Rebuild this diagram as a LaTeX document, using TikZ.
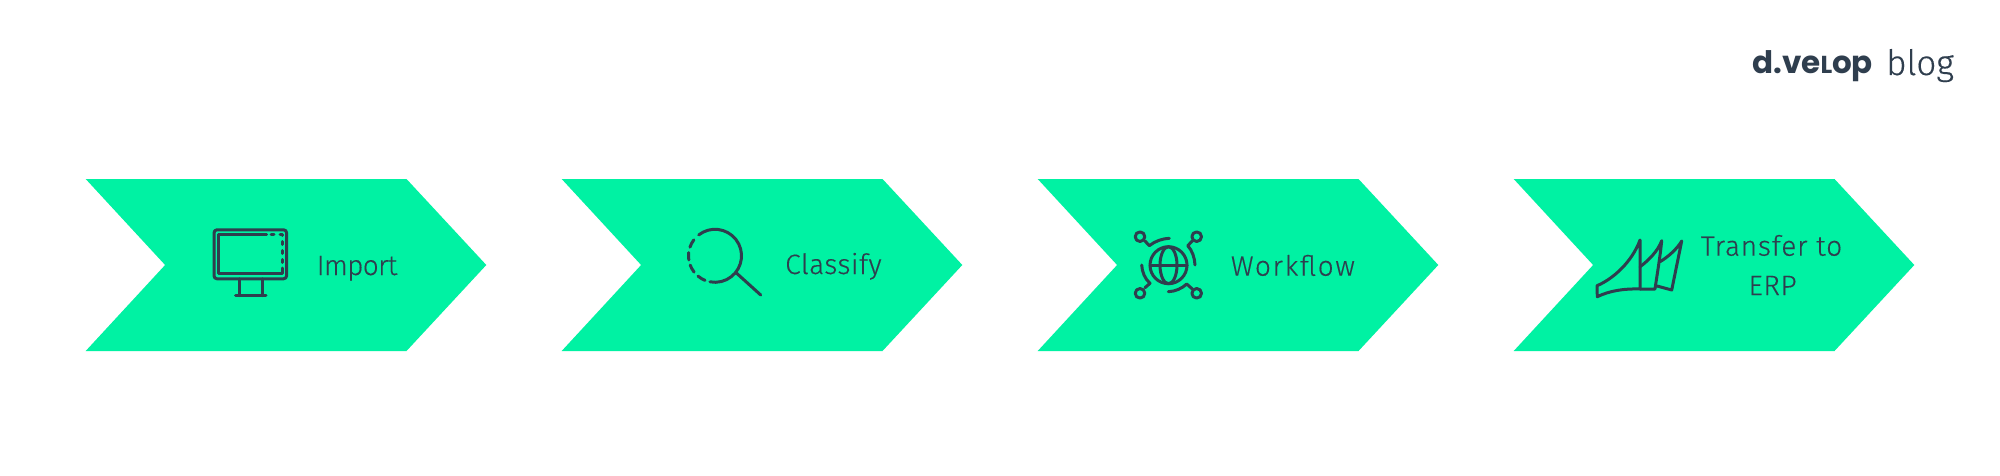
\documentclass[tikz,border=0pt]{standalone}
\usepackage{fontspec}
\setmainfont[FakeBold=0.3]{Fira Sans Light}
\newfontfamily\logofont{Poppins}
\newfontfamily\blogfont[FakeBold=0.3]{Fira Sans Light}
\definecolor{chev}{HTML}{00F2A3}
\definecolor{ink}{HTML}{2F3E4E}
\tikzset{
  chevron/.style={fill=chev,draw=none},
  label/.style={text=ink,font=\fontsize{28}{39}\selectfont,inner sep=0pt},
  icon/.style={draw=ink,line width=3pt,line cap=round,line join=round},
  cdash/.style={icon,dash pattern=on 3pt off 6pt}
}
\newcommand{\chevshape}[1]{\fill[chevron] (#1,179) -- ++(320.8,0) -- ++(79.8,86) -- ++(-79.8,86) -- ++(-320.8,0) -- ++(79.4,-86) -- cycle;}
\newcommand{\lsp}[1]{\addfontfeature{LetterSpace=#1}}
\begin{document}
\begin{tikzpicture}[x=1pt,y=-1pt]
\useasboundingbox (0,0) rectangle (2000,476);
\fill[white] (0,0) rectangle (2000,476);
\chevshape{85.7}
\chevshape{561.7}
\chevshape{1037.7}
\chevshape{1513.7}
% import icon
\draw[icon,rounded corners=3pt] (214,229.8) rectangle (286.6,278.8);
\draw[icon] (266.7,234.5) -- (218.8,234.5) -- (218.8,273.8) -- (282,273.8) -- (282,268);
\draw[cdash] (271,234.5) -- (282,234.5) -- (282,264);
\draw[icon] (239,278.8) -- (239,295.7) (262.3,278.8) -- (262.3,295.7) (235.5,295.7) -- (266,295.7);
\node[label,anchor=base west] (t1) at (316.5,275) {\lsp{-2.4}Import};
% classify icon
\draw[icon] (715,255.8) ++(128:26.5pt) arc[start angle=128,end angle=-101,radius=26.5pt];
\foreach \a/\b in {143/161,173/189,200.5/218,230/248}
  \draw[icon] (715,255.8) ++(\a:26.5pt) arc[start angle=\a,end angle=\b,radius=26.5pt];
\draw[icon] (736.7,273.3) -- (760.7,295);
\node[label,anchor=base west] (t2) at (785,274) {\lsp{1.8}Classify};
% workflow icon
\draw[icon] (1168.5,265.2) circle[radius=18.5];
\draw[icon] (1168.5,265.2) ellipse[x radius=8.5,y radius=18.5];
\draw[icon] (1150,265.2) -- (1187,265.2);
\foreach \x/\y in {1140/236.7,1196.7/236.7,1140/293.3,1196.7/293.3} \draw[icon] (\x,\y) circle[radius=4.8];
\draw[icon] (1145,241) -- (1149.3,245.7) .. controls (1155,241) and (1163,238.5) .. (1169.3,238.3);
\draw[icon] (1192.3,241) -- (1187.7,245.7) .. controls (1192,250) and (1194.8,258) .. (1195,265);
\draw[icon] (1145,287.7) -- (1150,283.3) .. controls (1145,279) and (1142,272) .. (1141.7,265);
\draw[icon] (1192.3,289) -- (1186.7,284) .. controls (1182,288.5) and (1175,291.5) .. (1168.3,291.7);
\node[label,anchor=base west] (t3) at (1230.7,275.7) {\lsp{5.8}Workflow};
% ERP icon
\draw[icon] (1640,240) .. controls (1632,262) and (1613,279) .. (1597,285.7) -- (1597.3,296.7) .. controls (1610,290.5) and (1625,288.5) .. (1640,289) -- cycle;
\draw[icon] (1640,266.7) .. controls (1648,261) and (1658,251) .. (1661.7,240.7) .. controls (1660,258) and (1657,275) .. (1655,289) -- (1640,289);
\draw[icon] (1660,261.7) .. controls (1668,257) and (1677,249) .. (1681.7,241) -- (1671.7,290) -- (1657,286);
\node[label,anchor=base] (t4a) at (1771.5,255.7) {\lsp{2.9}Transfer to};
\node[label,anchor=base] (t4b) at (1772.5,295) {\lsp{2.4}ERP};
% logo
\node[anchor=base west,inner sep=0pt,text=ink,font=\logofont\bfseries\fontsize{31}{31}\selectfont] (logo) at (1752,74) {d.ve\fontsize{24.5}{24.5}\selectfont L\fontsize{31}{31}\selectfont op};
\node[anchor=base west,inner sep=0pt,text=ink,font=\blogfont\fontsize{35}{35}\selectfont] (blog) at (1886,75) {blog};
\end{tikzpicture}
\end{document}
